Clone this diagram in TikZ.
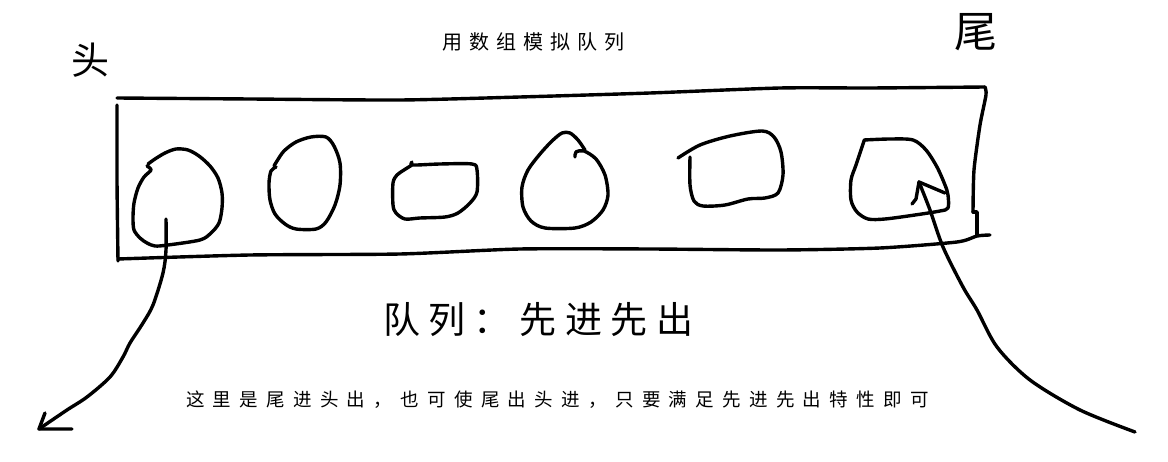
\documentclass[tikz,border=0pt]{standalone}
\usepackage{fontspec}
\newfontfamily\cjk{Noto Sans CJK SC}
\newfontfamily\cjktitle[LetterSpace=35]{Noto Sans CJK SC}
\newfontfamily\cjkmain[LetterSpace=23]{Noto Sans CJK SC}
\newfontfamily\cjksub[LetterSpace=45]{Noto Sans CJK SC}
\begin{document}
\begin{tikzpicture}[x=1pt,y=-1pt,
  sk/.style={line width=3.4pt,line cap=round,line join=round,black},
  lbl/.style={inner sep=0pt,outer sep=0pt,anchor=west}]
\useasboundingbox (0,0) rectangle (1168,462);
% texts
\node[lbl] (title) at (442,42) {\cjktitle\fontsize{20}{22}\selectfont 用数组模拟队列};
\node[lbl] (head) at (71,60) {\cjk\fontsize{38}{40}\selectfont 头};
\node[lbl] (tail) at (954,32) {\cjk\fontsize{43}{45}\selectfont 尾};
\node[lbl] (main) at (383,320) {\cjkmain\fontsize{37}{40}\selectfont 队列：先进先出};
\node[lbl] (sub) at (186,400) {\cjksub\fontsize{18.5}{20}\selectfont 这里是尾进头出，也可使尾出头进，只要满足先进先出特性即可};
% array box
\draw[sk] plot[smooth,tension=0.4] coordinates {(117,98) (250,99) (400,100) (520,97) (650,93) (780,88) (870,88) (985,87)};
\draw[sk] plot[smooth,tension=0.4] coordinates {(985,87) (986,95) (980,125) (974,170) (973,212)};
\draw[sk] (973,212) -- (977,212) -- (977,235);
\draw[sk] plot[smooth,tension=0.4] coordinates {(117,105) (117,180) (118,261)};
\draw[sk] plot[smooth,tension=0.4] coordinates {(118,259) (250,255) (400,254) (520,249) (650,249) (780,250) (880,248) (957,242) (977,236) (990,235)};
% cells
\draw[sk] plot[smooth,tension=0.5] coordinates {(147,166) (151,170) (144,177) (138,188) (134,203) (133,218) (134,230) (140,238) (147,243) (155,246) (168,245) (200,240) (211,233) (219,223) (222,208) (222,193) (218,178) (210,166) (199,156) (188,150) (176,149) (165,153) (155,159) (148,164)};
\draw[sk] plot[smooth,tension=0.5] coordinates {(276,167) (271,171) (269,183) (270,200) (275,214) (285,224) (296,229) (316,229) (326,222) (335,205) (340,185) (340,163) (334,146) (326,137) (311,137) (296,142) (284,151) (277,161) (274,166)};
\draw[sk] plot[smooth,tension=0.5] coordinates {(412,162) (413,165) (440,164) (472,164) (477,170) (477,192) (470,203) (458,213) (445,217) (420,218) (405,219) (396,213) (393,205) (393,183) (397,175) (404,170) (412,165)};
\draw[sk] plot[smooth,tension=0.5] coordinates {(575,157) (576,152) (584,151) (596,159) (605,175) (608,195) (603,210) (591,222) (575,228) (545,228) (531,221) (523,207) (522,187) (528,170) (540,154) (552,141) (562,133) (570,133) (578,140) (585,150)};
\draw[sk] plot[smooth,tension=0.5] coordinates {(678,158) (700,145) (730,136) (762,131) (774,137) (781,152) (783,175) (778,193) (765,198) (748,199) (725,205) (703,206) (694,201) (690,185) (690,157)};
\draw[sk] plot[smooth,tension=0.5] coordinates {(864,140) (890,139) (913,140) (926,150) (937,167) (945,185) (948,195) (948,208) (940,211) (915,215) (885,219) (868,219) (857,212) (851,200) (851,180) (856,165) (864,141)};
% left arrow: from first cell outwards
\coordinate (startL) at (166,219);
\coordinate (tipL) at (39,429);
\draw[sk] plot[smooth,tension=0.5] coordinates {(startL) (166,250) (163,273) (153,305) (143,323) (130,343) (123,357) (110,377) (87,397) (67,410) (tipL)};
\draw[sk] (45,413) -- (tipL) -- (72,429);
% right arrow: into last cell
\coordinate (startR) at (1135,432);
\coordinate (tipR) at (919,182);
\draw[sk] plot[smooth,tension=0.5] coordinates {(startR) (1080,410) (1030,380) (997,347) (977,310) (963,287) (943,247) (930,210) (tipR)};
\draw[sk] (945,193) -- (tipR) -- (916,199) -- (912,204);
\end{tikzpicture}
\end{document}
